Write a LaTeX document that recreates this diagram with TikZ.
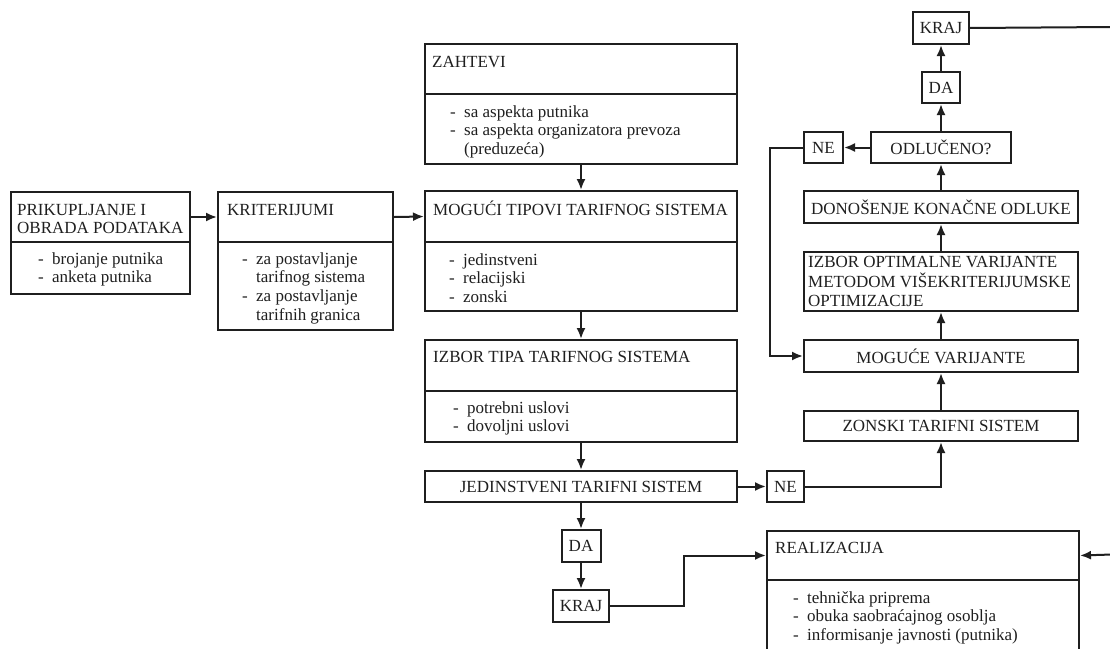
\documentclass[tikz,border=0pt]{standalone}
\usepackage{fontspec}
\setmainfont{Liberation Serif}
\usetikzlibrary{arrows.meta}
\definecolor{ink}{rgb}{0.12,0.12,0.12}
% list entry with a hanging dash, and a continuation line aligned with it
\newcommand{\dashitem}[1]{\makebox[14pt][l]{-}#1}
\newcommand{\contitem}[1]{\hspace*{14pt}#1}
\newcommand{\lines}[1]{\begin{tabular}[t]{@{}l@{}}#1\end{tabular}}
\begin{document}
\begin{tikzpicture}[x=1pt,y=-1pt,
  part/.style={draw=ink, line width=2pt, anchor=north west, inner sep=0pt,
    text=ink, font=\fontsize{17}{18.7}\selectfont},
  txt/.style={inner sep=0pt, anchor=base west, text=ink,
    font=\fontsize{17}{18.7}\selectfont},
  arr/.style={draw=ink, line width=2pt, -{Latex[length=11pt,width=9pt]}},
  wire/.style={draw=ink, line width=2pt}]
\useasboundingbox (0,0) rectangle (1110,648);
\clip (0,0) rectangle (1110,648);
\fill[white] (0,0) rectangle (1110,648);

% --- left column: data and criteria
\node[part, minimum width=179pt, minimum height=50pt] (priH) at (10,191) {};
\node[part, minimum width=179pt, minimum height=52pt] (priB) at (10,241) {};
\node[txt] (priT) at (17,215) {\lines{PRIKUPLJANJE I\\OBRADA PODATAKA}};
\node[txt] (priL) at (38,264) {\lines{\dashitem{brojanje putnika}\\ \dashitem{anketa putnika}}};

\node[part, minimum width=175pt, minimum height=50pt] (kriH) at (217,191) {};
\node[part, minimum width=175pt, minimum height=88pt] (kriB) at (217,241) {};
\node[txt] (kriT) at (227,215) {KRITERIJUMI};
\node[txt] (kriL) at (242,264) {\lines{\dashitem{za postavljanje}\\ \contitem{tarifnog sistema}\\
  \dashitem{za postavljanje}\\ \contitem{tarifnih granica}}};

% --- middle column
\node[part, minimum width=312pt, minimum height=50pt] (zahH) at (424,43) {};
\node[part, minimum width=312pt, minimum height=70pt] (zahB) at (424,93) {};
\node[txt] (zahT) at (432,67) {ZAHTEVI};
\node[txt] (zahL) at (450,117) {\lines{\dashitem{sa aspekta putnika}\\
  \dashitem{sa aspekta organizatora prevoza}\\ \contitem{(preduzeća)}}};

\node[part, minimum width=312pt, minimum height=51pt] (mogH) at (424,190) {};
\node[part, minimum width=312pt, minimum height=69pt] (mogB) at (424,241) {};
\node[txt] (mogT) at (433,215) {MOGUĆI TIPOVI TARIFNOG SISTEMA};
\node[txt] (mogL) at (449,265) {\lines{\dashitem{jedinstveni}\\ \dashitem{relacijski}\\ \dashitem{zonski}}};

\node[part, minimum width=312pt, minimum height=51pt] (izbH) at (424,339) {};
\node[part, minimum width=312pt, minimum height=51pt] (izbB) at (424,390) {};
\node[txt] (izbT) at (433,362) {IZBOR TIPA TARIFNOG SISTEMA};
\node[txt] (izbL) at (453,413) {\lines{\dashitem{potrebni uslovi}\\ \dashitem{dovoljni uslovi}}};

\node[part, minimum width=312pt, minimum height=31pt] (jed) at (424,470) {JEDINSTVENI TARIFNI SISTEM};
\node[part, minimum width=37pt, minimum height=31pt] (ne1) at (766,470) {NE};
\node[part, minimum width=39pt, minimum height=32pt] (da1) at (560.5,529) {DA};
\node[part, minimum width=56pt, minimum height=32pt] (kr1) at (552,589) {KRAJ};

% --- realization
\node[part, minimum width=312pt, minimum height=49pt] (reaH) at (766,530) {};
\node[part, minimum width=312pt, minimum height=90pt] (reaB) at (766,579) {};
\node[txt] (reaT) at (775,553) {REALIZACIJA};
\node[txt] (reaL) at (793,603) {\lines{\dashitem{tehnička priprema}\\
  \dashitem{obuka saobraćajnog osoblja}\\ \dashitem{informisanje javnosti (putnika)}}};

% --- right column: zonal system and decision
\node[part, minimum width=274pt, minimum height=30pt] (zon) at (803,410) {ZONSKI TARIFNI SISTEM};
\node[part, minimum width=274pt, minimum height=32pt] (mov) at (803,339) {MOGUĆE VARIJANTE};
\node[part, minimum width=274pt, minimum height=59pt] (opt) at (803,251) {};
\node[txt, font=\fontsize{17}{19.5}\selectfont] (optT) at (808,267)
  {\lines{IZBOR OPTIMALNE VARIJANTE\\METODOM VIŠEKRITERIJUMSKE\\OPTIMIZACIJE}};
\node[part, minimum width=274pt, minimum height=32pt] (don) at (803,190) {DONOŠENJE KONAČNE ODLUKE};
\node[part, minimum width=140pt, minimum height=31pt] (odl) at (870,131) {ODLUČENO?};
\node[part, minimum width=39pt, minimum height=31pt] (ne2) at (803,131) {NE};
\node[part, minimum width=38pt, minimum height=31pt] (da2) at (921,71) {DA};
\node[part, minimum width=56pt, minimum height=32pt] (kr2) at (912,11) {KRAJ};

\coordinate (edgeTop) at (1112,27);
\coordinate (edgeBot) at (1112,554.5);

% --- connectors
\draw[arr] (priH.east) -- (kriH.west);
\draw[arr] (kriH.east) -- (mogH.west);
\draw[arr] (zahB.south) -- (mogH.north);
\draw[arr] (mogB.south) -- (izbH.north);
\draw[arr] (izbB.south) -- (jed.north);
\draw[arr] (jed.east) -- (ne1.west);
\draw[arr] (jed.south) -- (da1.north);
\draw[arr] (da1.south) -- (kr1.north);
\draw[arr] (kr1.east) -- ++(74,0) |- (reaH.west);
\draw[arr] (ne1.east) -| (zon.south);
\draw[arr] (zon.north) -- (mov.south);
\draw[arr] (mov.north) -- (opt.south);
\draw[arr] (opt.north) -- (don.south);
\draw[arr] (don.north) -- (odl.south);
\draw[arr] (odl.north) -- (da2.south);
\draw[arr] (da2.north) -- (kr2.south);
\draw[arr] (odl.west) -- (ne2.east);
\draw[arr] (ne2.west) -- ++(-33,0) |- (mov.west);
\draw[wire] (kr2.east) -- (edgeTop);
\draw[arr] (edgeBot) -- (reaH.east);
\end{tikzpicture}
\end{document}
